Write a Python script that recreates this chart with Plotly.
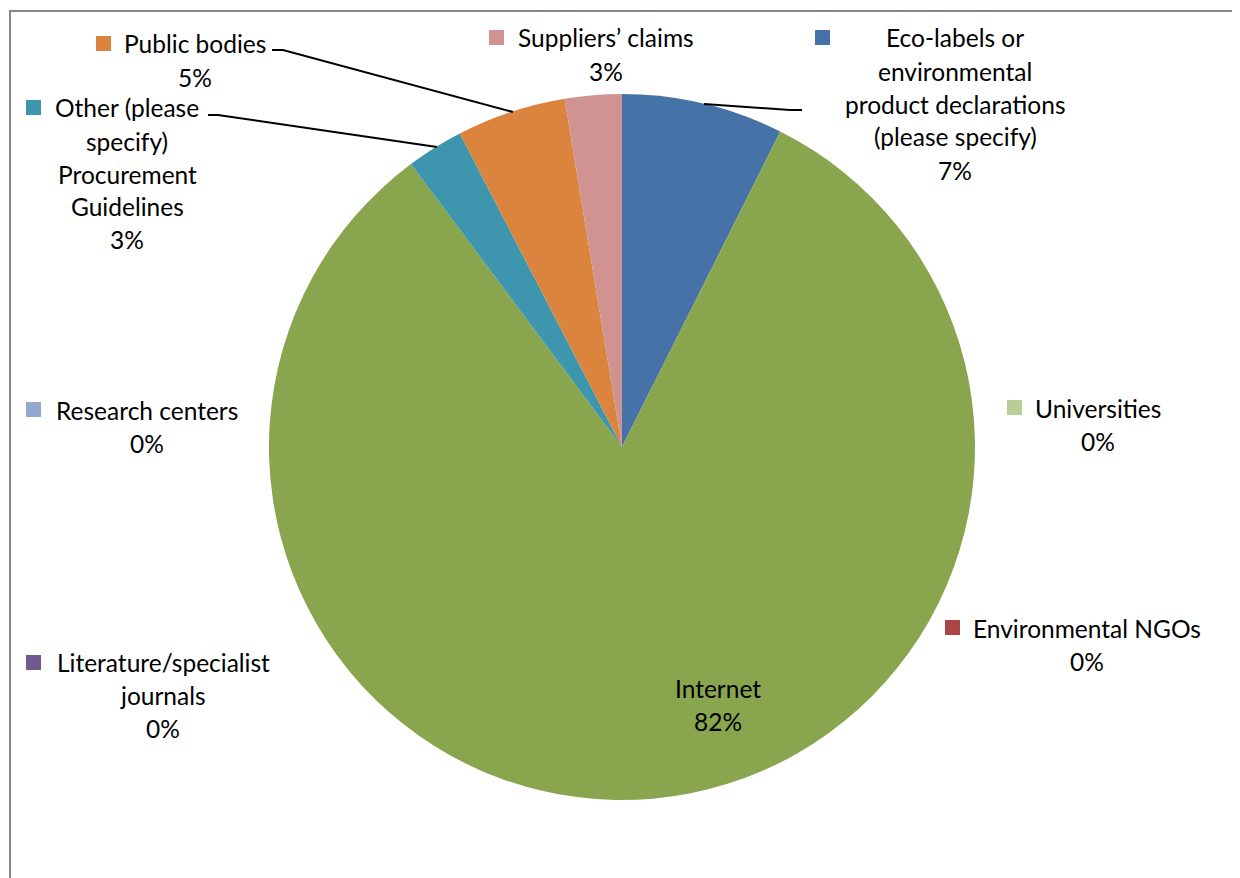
import plotly.graph_objects as go

# page body has an 8px margin, so the figure is drawn 8px in from the window edge
OFF = 8
W, H = 1240 - OFF, 878 - OFF

# ---- data ----
categories = [
    "Eco-labels or environmental product declarations (please specify)",
    "Environmental NGOs",
    "Universities",
    "Internet",
    "Literature/specialist journals",
    "Research centers",
    "Other (please specify) Procurement Guidelines",
    "Public bodies",
    "Suppliers’ claims",
]
label_lines = [
    ["Eco-labels or", "environmental", "product declarations", "(please specify)"],
    ["Environmental NGOs"],
    ["Universities"],
    ["Internet"],
    ["Literature/specialist", "journals"],
    ["Research centers"],
    ["Other (please", "specify)", "Procurement", "Guidelines"],
    ["Public bodies"],
    ["Suppliers’ claims"],
]
values = [7.4, 0, 0, 82.4, 0, 0, 2.6, 5.0, 2.6]
colors = ["#4572A7", "#AA4643", "#B9CD96", "#89A54E", "#71588F",
          "#93A9CF", "#3D96AE", "#DB843D", "#D09392"]

# ---- layout helpers (pixel positions of label blocks, window coords) ----
label_center_x = [955, 1087, 1098, 718, 163, 147, 127, 195, 606]
label_first_y = [38, 628, 408, 688, 662, 410, 108, 44, 38]
key_pos = [(815, 30), (945, 620), (1007, 400), None, (26, 655),
           (26, 402), (26, 100), (96, 36), (489, 30)]
LINE_STEP = 33


def px(x):
    return (x - OFF) / W


def py(y):
    return 1 - (y - OFF) / H


cx, cy, r = 622, 447, 353

fig = go.Figure(go.Pie(
    labels=categories,
    values=values,
    marker=dict(colors=colors, line=dict(width=0)),
    sort=False,
    direction="clockwise",
    rotation=0,
    textinfo="none",
    hoverinfo="label+percent",
    showlegend=False,
    domain=dict(x=[px(cx - r), px(cx + r)], y=[py(cy + r), py(cy - r)]),
))

total = sum(values)
annotations = []
shapes = []
font = dict(family="Lato, Open Sans, sans-serif", size=24.5, color="#000000")
for i, lines in enumerate(label_lines):
    pct = f"{round(values[i] / total * 100)}%"
    all_lines = lines + [pct]
    for j, t in enumerate(all_lines):
        annotations.append(dict(
            x=px(label_center_x[i]), y=py(label_first_y[i] + j * LINE_STEP),
            xref="paper", yref="paper", text=t, showarrow=False,
            xanchor="center", yanchor="middle", font=font,
        ))
    if key_pos[i] is not None:
        kx, ky = key_pos[i]
        shapes.append(dict(
            type="rect", xref="paper", yref="paper",
            x0=px(kx), x1=px(kx + 15), y0=py(ky), y1=py(ky + 15),
            fillcolor=colors[i], line=dict(width=0),
        ))

# leader lines
leaders = [
    [(272, 50), (283, 50), (513, 112)],
    [(208, 115), (218, 115), (437, 147)],
    [(704, 104), (790, 110), (802, 110)],
]
for pts in leaders:
    path = "M " + " L ".join(f"{px(x)},{py(y)}" for x, y in pts)
    shapes.append(dict(type="path", xref="paper", yref="paper", path=path,
                       line=dict(color="#000000", width=2)))

# chart border
shapes.append(dict(type="rect", xref="paper", yref="paper",
                   x0=px(10), x1=px(1234), y0=py(890), y1=py(11),
                   line=dict(color="#868686", width=2), fillcolor="rgba(0,0,0,0)"))

fig.update_layout(
    width=W, height=H,
    margin=dict(l=0, r=0, t=0, b=0),
    paper_bgcolor="white", plot_bgcolor="white",
    annotations=annotations, shapes=shapes,
)

fig.write_html("out.html")
